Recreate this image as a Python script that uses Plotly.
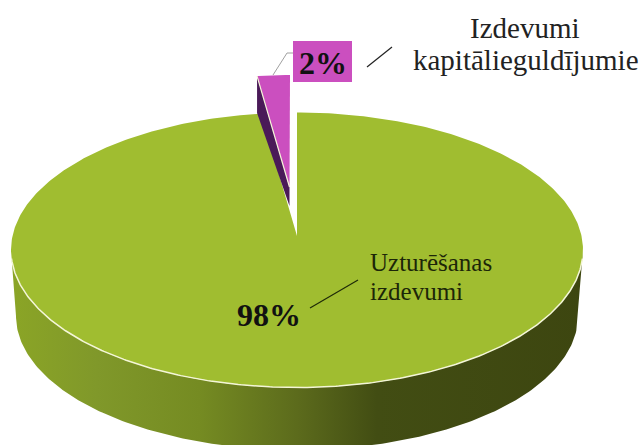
import numpy as np
import plotly.graph_objects as go

# Data
categories = ["Uzturēšanas\nizdevumi", "Izdevumi\nkapitālieguldījumie"]
values = [98, 2]
value_labels = ["98%", "2%"]

FONT = "Liberation Serif"
GREEN_TOP = "#a0bd30"
PINK = "#cb4fbf"
PURPLE = "#4a1a58"
CREAM = "#f4f6d8"

W, H = 639, 445
CX, CY, RX, RY = 297.0, 250.0, 286.0, 137.5
APEX = (297.0, 236.0)
B_CX, B_CY, B_RX, B_RY = 297.0, 316.0, 281.0, 134.0
sweep_small = 2 * np.pi * values[1] / sum(values)


def rim(theta, cx=CX, cy=CY, rx=RX, ry=RY):
    return cx + rx * np.sin(theta), cy - ry * np.cos(theta)


fig = go.Figure()

# Side wall of the large slice
t_top = np.linspace(np.pi * 1.5, np.pi * 0.5, 200)
x_top, y_top = rim(t_top)
t_bot = np.linspace(np.pi * 0.5, np.pi * 1.5, 200)
x_bot, y_bot = rim(t_bot, B_CX, B_CY, B_RX, B_RY)
fig.add_trace(go.Scatter(
    x=np.r_[x_top, x_bot], y=np.r_[y_top, y_bot], mode="lines", fill="toself",
    line=dict(width=0, color="#5c6a1c"),
    fillgradient=dict(type="horizontal", colorscale=[
        [0.0, "#8ba526"], [0.15, "#80982a"], [0.33, "#758b22"], [0.5, "#5c6b1c"],
        [0.64, "#424d13"], [1.0, "#3d4610"]]),
    hoverinfo="skip", showlegend=False))

# Top face of the large slice
t_big = np.linspace(0, 2 * np.pi - sweep_small, 500)
x_big, y_big = rim(t_big)
fig.add_trace(go.Scatter(
    x=np.r_[APEX[0], x_big, APEX[0]], y=np.r_[APEX[1], y_big, APEX[1]],
    mode="lines", fill="toself", fillcolor=GREEN_TOP, line=dict(width=0, color=GREEN_TOP),
    hoverinfo="skip", showlegend=False))

# Bright edge on the front rim
x_edge, y_edge = rim(np.linspace(np.pi * 0.52, np.pi * 1.48, 300))
fig.add_trace(go.Scatter(x=x_edge, y=y_edge, mode="lines", line=dict(width=1.5, color=CREAM),
                         hoverinfo="skip", showlegend=False))

# Exploded small slice
W_APEX = (289.5, 187.0)
W_CX, W_CY, W_RX, W_RY = 290.0, 212.0, 263.0, 137.0
W_DEPTH_OUT, W_DEPTH_IN = 37.0, 19.0
t_w = np.linspace(-sweep_small, 0, 30)
xw, yw = rim(t_w, W_CX, W_CY, W_RX, W_RY)
fig.add_trace(go.Scatter(
    x=[xw[0], xw[0], W_APEX[0], W_APEX[0], xw[0]],
    y=[yw[0], yw[0] + W_DEPTH_OUT, W_APEX[1] + W_DEPTH_IN, W_APEX[1], yw[0]],
    mode="lines", fill="toself", fillcolor=PURPLE, line=dict(width=0, color=PURPLE),
    hoverinfo="skip", showlegend=False))
fig.add_trace(go.Scatter(
    x=np.r_[W_APEX[0], xw, W_APEX[0]], y=np.r_[W_APEX[1], yw, W_APEX[1]],
    mode="lines", fill="toself", fillcolor=PINK, line=dict(width=0, color=PINK),
    hoverinfo="skip", showlegend=False))
fig.add_trace(go.Scatter(x=[xw[0], W_APEX[0]], y=[yw[0], W_APEX[1]], mode="lines",
                         line=dict(width=1.2, color=CREAM), hoverinfo="skip", showlegend=False))

# Value-label box and leaders
shapes = [
    dict(type="rect", x0=293, x1=352, y0=41, y1=82, fillcolor=PINK, line=dict(width=0)),
    dict(type="path", path="M273,75 L287,53 L293,53", line=dict(color="#a0a0a0", width=1)),
    dict(type="line", x0=367, y0=67, x1=392, y1=47, line=dict(color="#222222", width=1.2)),
    dict(type="line", x0=310, y0=308, x1=358, y1=280, line=dict(color="#1e2a08", width=1.2)),
]


def note(x, y, text, size, bold=False, color="#111111", align="center"):
    return dict(x=x, y=y, xref="x", yref="y", text=f"<b>{text}</b>" if bold else text,
                showarrow=False, align=align, xanchor=align, yanchor="middle",
                font=dict(family=FONT, size=size, color=color))


big_lines = categories[0].split("\n")
small_lines = categories[1].split("\n")
annotations = [
    note(323, 63, value_labels[1], 32, bold=True),
    note(269, 315, value_labels[0], 32, bold=True),
    note(525, 28, small_lines[0], 29, color="#222222"),
    note(525.5, 60, small_lines[1], 29, color="#222222"),
    note(368, 262, big_lines[0], 25, align="left", color="#1c2608"),
    note(368, 291, big_lines[1], 25, align="left", color="#1c2608"),
]

fig.update_layout(
    width=W, height=H, margin=dict(l=0, r=0, t=0, b=0),
    paper_bgcolor="white", plot_bgcolor="white", showlegend=False,
    xaxis=dict(range=[0, W], visible=False, fixedrange=True),
    yaxis=dict(range=[H, 0], visible=False, fixedrange=True),
    shapes=shapes, annotations=annotations,
)
fig.write_html("out.html", config=dict(displayModeBar=False),
               post_script="document.body.style.margin='0';document.body.style.overflow='hidden';")
